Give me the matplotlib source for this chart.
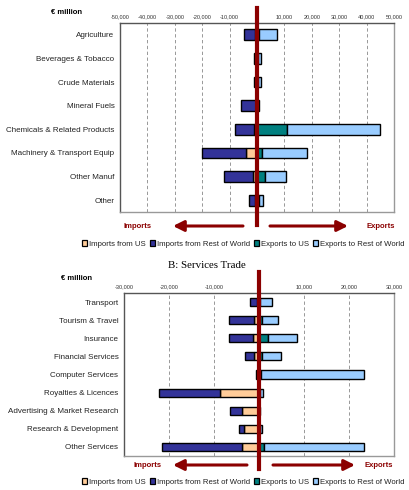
import matplotlib
matplotlib.use("Agg")
import matplotlib.pyplot as plt
import numpy as np
from matplotlib.patches import Patch

# goods trade, EUR million (magnitudes)
goods = ["Agriculture", "Beverages & Tobacco", "Crude Materials", "Mineral Fuels",
         "Chemicals & Related Products", "Machinery & Transport Equip",
         "Other Manuf", "Other"]
goods_imp_us = [800, 200, 200, 300, 1000, 4100, 1300, 600]
goods_imp_row = [3800, 800, 800, 5500, 7000, 16100, 10600, 2200]
goods_exp_us = [800, 300, 300, 300, 10800, 1900, 3000, 600]
goods_exp_row = [6400, 1000, 1200, 500, 34200, 16200, 7500, 1500]
goods_ticks = [-50000, -40000, -30000, -20000, -10000, 0, 10000, 20000, 30000, 40000, 50000]

# services trade, EUR million (magnitudes)
services = ["Transport", "Tourism & Travel", "Insurance", "Financial Services",
            "Computer Services", "Royalties & Licences", "Advertising & Market Research",
            "Research & Development", "Other Services"]
serv_imp_us = [400, 1100, 1300, 1100, 300, 8600, 3800, 3300, 3700]
serv_imp_row = [1500, 5500, 5400, 1900, 300, 13700, 2600, 1200, 17800]
serv_exp_us = [300, 700, 1900, 700, 400, 300, 100, 300, 1100]
serv_exp_row = [2700, 3500, 6500, 4200, 22900, 700, 100, 400, 22200]
serv_ticks = [-30000, -20000, -10000, 0, 10000, 20000, 30000]

series_names = ["Imports from US", "Imports from Rest of World", "Exports to US", "Exports to Rest of World"]
col_imp_us = "#FFCC99"
col_imp_row = "#333399"
col_exp_us = "#008080"
col_exp_row = "#99CCFF"
red = "#8B0000"

plt.rcParams["font.family"] = ["Liberation Sans", "DejaVu Sans"]

W, H = 410, 490
fig = plt.figure(figsize=(W / 100, H / 100), dpi=100)


def fx(x):
    return x / W


def fy(y):
    return 1 - y / H


def draw_panel(left, top, right, bottom, cats, imp_us, imp_row, exp_us, exp_row,
               ticks, lim, line_top, line_bot, arrow_y, imp_arrow, exp_arrow,
               imp_text_x, exp_text_x, legend_y, unit_xy):
    ax = fig.add_axes([fx(left), fy(bottom), fx(right - left), (bottom - top) / H])
    y = np.arange(len(cats))
    iu = -np.array(imp_us)
    ir = -np.array(imp_row)
    eu = np.array(exp_us)
    er = np.array(exp_row)
    h = 0.45
    kw = dict(height=h, edgecolor="black", linewidth=1.0, zorder=3)
    ax.barh(y, iu, color=col_imp_us, **kw)
    ax.barh(y, ir, left=iu, color=col_imp_row, **kw)
    ax.barh(y, eu, color=col_exp_us, **kw)
    ax.barh(y, er, left=eu, color=col_exp_row, **kw)
    ax.set_xlim(-lim, lim)
    ax.set_ylim(len(cats) - 0.5, -0.5)
    ax.set_yticks(y)
    ax.set_yticklabels(cats, fontsize=5.8, color="#222222")
    ax.tick_params(axis="y", length=0, pad=4)
    ax.xaxis.tick_top()
    ax.set_xticks(ticks)
    ax.set_xticklabels([f"{t:,}" for t in ticks], fontsize=4, color="#333333")
    ax.tick_params(axis="x", length=0, pad=3)
    for t in ticks:
        ax.axvline(t, color="#888888", lw=0.6, ls=(0, (4, 3)), zorder=1)
    for s in ax.spines.values():
        s.set_color("#999999")
        s.set_linewidth(1)
    ax.spines["top"].set_color("#555555")
    ax.spines["left"].set_color("#555555")
    # red zero line extending beyond the axes
    ph = bottom - top
    ax.axvline(0, ymin=(bottom - line_bot) / ph, ymax=(bottom - line_top) / ph,
               color=red, lw=3, zorder=6, clip_on=False)
    # arrows
    ap = dict(arrowstyle="-|>", color=red, lw=2.2, mutation_scale=16, shrinkA=0, shrinkB=0)
    ax.annotate("", xy=(fx(imp_arrow[0]), fy(arrow_y)), xytext=(fx(imp_arrow[1]), fy(arrow_y)),
                xycoords=fig.transFigure, textcoords=fig.transFigure, arrowprops=ap,
                annotation_clip=False)
    ax.annotate("", xy=(fx(exp_arrow[1]), fy(arrow_y)), xytext=(fx(exp_arrow[0]), fy(arrow_y)),
                xycoords=fig.transFigure, textcoords=fig.transFigure, arrowprops=ap,
                annotation_clip=False)
    fig.text(fx(imp_text_x), fy(arrow_y), "Imports", color=red, fontsize=5.5,
             fontweight="bold", ha="center", va="center")
    fig.text(fx(exp_text_x), fy(arrow_y), "Exports", color=red, fontsize=5.5,
             fontweight="bold", ha="center", va="center")
    fig.text(fx(unit_xy[0]), fy(unit_xy[1]), "\u20ac million", fontsize=5.5,
             fontweight="bold", ha="center", va="center")
    handles = [Patch(facecolor=c, edgecolor="black", linewidth=0.9)
               for c in (col_imp_us, col_imp_row, col_exp_us, col_exp_row)]
    fig.legend(handles, series_names, loc="center", bbox_to_anchor=(fx(243), fy(legend_y)),
               ncol=4, fontsize=5.6, frameon=False, handlelength=0.7, handleheight=0.7,
               handletextpad=0.2, columnspacing=0.5, borderpad=0, labelcolor="#222222")
    return ax


draw_panel(120, 23, 394, 212, goods, goods_imp_us, goods_imp_row, goods_exp_us, goods_exp_row,
           goods_ticks, 50000, 8, 225, 226, (173, 243), (270, 348), 138, 381, 244, (67, 13))

fig.text(fx(207), fy(266), "B: Services Trade", family=["Liberation Serif", "DejaVu Serif"],
         fontsize=7.8, ha="center", va="center")

draw_panel(124, 293, 394, 456, services, serv_imp_us, serv_imp_row, serv_exp_us, serv_exp_row,
           serv_ticks, 30000, 272, 469, 465, (173, 247), (273, 355), 148, 379, 482, (77, 278))

fig.savefig("out.png", dpi=100)
